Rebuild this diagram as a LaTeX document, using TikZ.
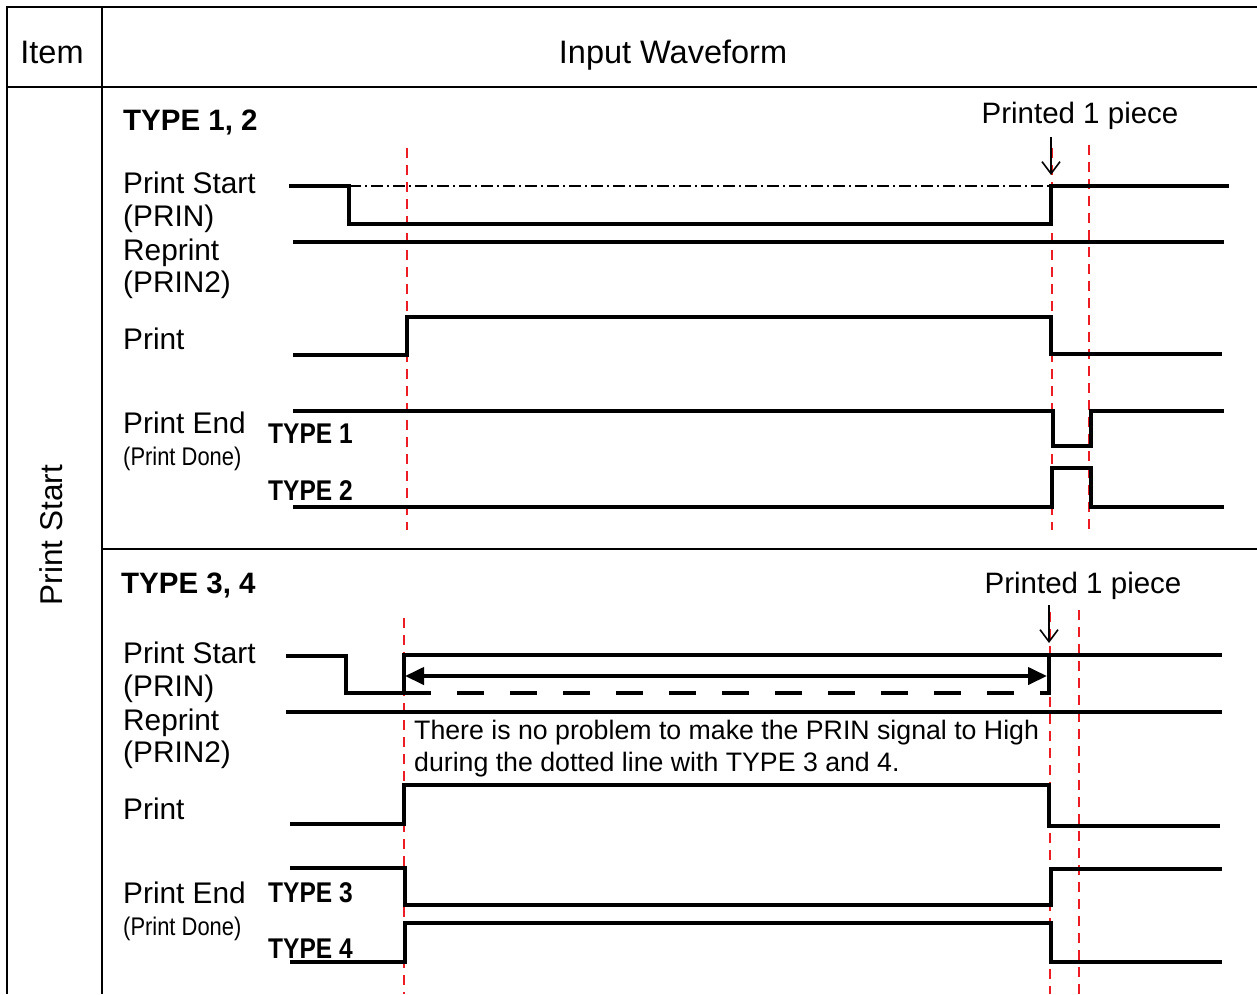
\documentclass[tikz,border=0pt]{standalone}
\usepackage{fontspec}
\setmainfont{Liberation Sans}
\newfontfamily\narrowfont[FakeStretch=0.86]{Liberation Sans}
\usetikzlibrary{arrows.meta}
\definecolor{guidered}{RGB}{236,28,36}
\begin{document}
\begin{tikzpicture}[x=1pt,y=-1pt,
  frame/.style={line width=2.4pt},
  wave/.style={line width=4pt, line join=miter},
  guide/.style={draw=guidered, line width=2.8pt, dash pattern=on 10pt off 7pt},
  dashdot/.style={line width=1.3pt, dash pattern=on 12pt off 4pt on 2pt off 4pt},
  lowdash/.style={line width=4pt, dash pattern=on 27pt off 26pt},
  marker/.style={line width=1.6pt, -{Straight Barb[length=12pt,width=18pt]}},
  span/.style={line width=4pt, {Triangle[length=19pt,width=17pt]}-{Triangle[length=19pt,width=17pt]}},
  head/.style={anchor=base, inner sep=0pt, font=\fontsize{32.5}{38}\selectfont},
  lbl/.style={anchor=base west, inner sep=0pt, font=\fontsize{29.8}{34}\selectfont},
  title/.style={anchor=base west, inner sep=0pt, font=\bfseries\fontsize{29.5}{34}\selectfont},
  sublbl/.style={anchor=base west, inner sep=0pt, font=\narrowfont\fontsize{25.5}{30}\selectfont},
  typ/.style={anchor=base west, inner sep=0pt, font=\narrowfont\bfseries\fontsize{28.5}{34}\selectfont},
  note/.style={anchor=base west, inner sep=0pt, font=\fontsize{26.7}{32}\selectfont},
]
\useasboundingbox (0,0) rectangle (1257,994);

% frame
\draw[frame] (7,994) -- (7,7) -- (1257,7);
\draw[frame] (102,7) -- (102,994);
\draw[frame] (7,87) -- (1257,87);
\draw[frame] (102,549) -- (1257,549);

\node[head] (item) at (52,63) {Item};
\node[head] (input) at (673,63) {Input Waveform};
\node[anchor=base, inner sep=0pt, rotate=90, font=\fontsize{31.5}{36}\selectfont] (ps) at (62,535) {Print Start};

% ---------- section 1 ----------
\node[title] (t12) at (123,130) {TYPE 1, 2};
\node[anchor=base, inner sep=0pt, font=\fontsize{29.5}{34}\selectfont] (pp1) at (1080,123) {Printed 1 piece};

\node[lbl] (ps1) at (123,193) {Print Start};
\node[lbl] (prin1) at (123,226) {(PRIN)};
\node[lbl] (rp1) at (123,260) {Reprint};
\node[lbl] (prin21) at (123,292) {(PRIN2)};
\node[lbl] (pr1) at (123,349) {Print};
\node[lbl] (pe1) at (123,433) {Print End};
\node[sublbl] (pd1) at (123,465) {(Print Done)};
\node[typ] (ty1) at (268,443) {TYPE 1};
\node[typ] (ty2) at (268,500) {TYPE 2};

\draw[guide] (407,148) -- (407,530);
\draw[guide] (1052,148) -- (1052,530);
\draw[guide] (1089,145) -- (1089,530);

\draw[dashdot] (349,186) -- (1051,186);
\draw[wave] (289,186) -- (349,186) -- (349,224) -- (1051,224) -- (1051,186) -- (1229,186);
\draw[wave] (293,242) -- (1224,242);
\draw[wave] (293,355) -- (407,355) -- (407,317) -- (1051,317) -- (1051,354) -- (1222,354);
\draw[wave] (293,411) -- (1053,411) -- (1053,446) -- (1091,446) -- (1091,411) -- (1224,411);
\draw[wave] (293,507) -- (1052,507) -- (1052,468) -- (1091,468) -- (1091,507) -- (1224,507);

\coordinate (m1a) at (1051,137);
\coordinate (m1b) at (1051,175);
\draw[marker] (m1a) -- (m1b);

% ---------- section 2 ----------
\node[title] (t34) at (121,593) {TYPE 3, 4};
\node[anchor=base, inner sep=0pt, font=\fontsize{29.5}{34}\selectfont] (pp2) at (1083,593) {Printed 1 piece};

\node[lbl] (ps2) at (123,663) {Print Start};
\node[lbl] (prin2) at (123,696) {(PRIN)};
\node[lbl] (rp2) at (123,730) {Reprint};
\node[lbl] (prin22) at (123,762) {(PRIN2)};
\node[lbl] (pr2) at (123,819) {Print};
\node[lbl] (pe2) at (123,903) {Print End};
\node[sublbl] (pd2) at (123,935) {(Print Done)};
\node[typ] (ty3) at (268,902) {TYPE 3};
\node[typ] (ty4) at (268,958) {TYPE 4};

\node[note] (n1) at (414,739) {There is no problem to make the PRIN signal to High};
\node[note] (n2) at (414,771) {during the dotted line with TYPE 3 and 4.};

\draw[guide] (404,618) -- (404,994);
\draw[guide] (1050,612) -- (1050,994);
\draw[guide] (1079,610) -- (1079,994);

\draw[wave] (286,656) -- (346,656) -- (346,693) -- (404,693);
\draw[wave] (404,695) -- (404,655) -- (1222,655);
\draw[lowdash] (404,693) -- (1049,693);
\draw[wave] (1049,655) -- (1049,695);
\coordinate (sa) at (405,676);
\coordinate (sb) at (1047,676);
\draw[span] (sa) -- (sb);
\draw[wave] (286,712) -- (1222,712);
\draw[wave] (290,824) -- (404,824) -- (404,785) -- (1049,785) -- (1049,826) -- (1220,826);
\draw[wave] (290,868) -- (405,868) -- (405,905) -- (1051,905) -- (1051,869) -- (1222,869);
\draw[wave] (290,962) -- (405,962) -- (405,923) -- (1051,923) -- (1051,962) -- (1222,962);

\coordinate (m2a) at (1049,605);
\coordinate (m2b) at (1049,643);
\draw[marker] (m2a) -- (m2b);
\end{tikzpicture}
\end{document}
